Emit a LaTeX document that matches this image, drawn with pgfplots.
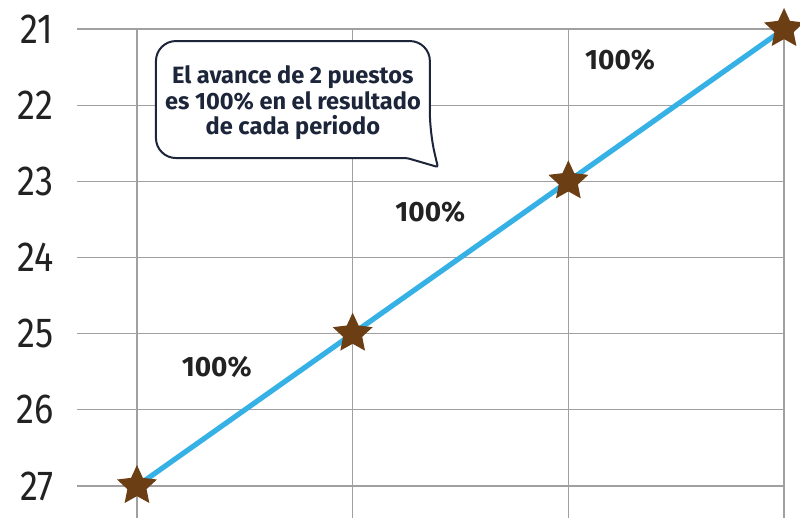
\documentclass[border=0pt]{standalone}
\usepackage{pgfplots}
\pgfplotsset{compat=1.18}
\usepackage{fontspec}
\setmainfont{Fira Sans}
\newfontfamily\tickfont{Fira Sans}[FakeStretch=0.86]
\definecolor{starbrown}{HTML}{6B3E13}
\definecolor{lineblue}{HTML}{36B1E6}
\definecolor{navy}{HTML}{1C2539}
\definecolor{gridgray}{HTML}{A0A0A0}
\definecolor{txt}{HTML}{222222}
\pgfdeclareplotmark{fstar}{%
  \pgfpathmoveto{\pgfpointpolar{90}{\pgfplotmarksize}}%
  \pgfpathlineto{\pgfpointpolar{126}{0.48\pgfplotmarksize}}%
  \pgfpathlineto{\pgfpointpolar{162}{\pgfplotmarksize}}%
  \pgfpathlineto{\pgfpointpolar{198}{0.48\pgfplotmarksize}}%
  \pgfpathlineto{\pgfpointpolar{234}{\pgfplotmarksize}}%
  \pgfpathlineto{\pgfpointpolar{270}{0.48\pgfplotmarksize}}%
  \pgfpathlineto{\pgfpointpolar{306}{\pgfplotmarksize}}%
  \pgfpathlineto{\pgfpointpolar{342}{0.48\pgfplotmarksize}}%
  \pgfpathlineto{\pgfpointpolar{18}{\pgfplotmarksize}}%
  \pgfpathlineto{\pgfpointpolar{54}{0.48\pgfplotmarksize}}%
  \pgfpathclose
  \pgfusepathqfill
}
\begin{document}
\begin{tikzpicture}
\begin{axis}[
  x=107.85pt, y=38.085pt,
  y dir=reverse,
  xmin=-0.278, xmax=3,
  ymin=21, ymax=27.42,
  clip=false,
  axis line style={draw=none},
  tick style={draw=none},
  xtick={0,1,2,3}, xticklabels={},
  ytick={21,22,23,24,25,26,27},
  yticklabels={21,22,23,24,25,26,27},
  yticklabel style={anchor=east, inner sep=0pt, xshift=-11.5pt,
    font=\tickfont\fontsize{21}{21}\selectfont, text=txt},
  grid=major,
  major grid style={gridgray, line width=0.6pt},
]
\addplot[only marks, mark=fstar, mark size=10.5pt, starbrown]
  coordinates {(0,27) (1,25) (2,23) (3,21)};
\addplot[no marks, lineblue, line width=2.6pt]
  coordinates {(0,27) (1,25) (2,23) (3,21)};
\node[font=\bfseries\fontsize{14}{14}\selectfont, text=txt] at (axis cs:0.37,25.44) {100\%};
\node[font=\bfseries\fontsize{14}{14}\selectfont, text=txt] at (axis cs:1.36,23.40) {100\%};
\node[font=\bfseries\fontsize{14}{14}\selectfont, text=txt] at (axis cs:2.24,21.41) {100\%};
\draw[navy, line width=1pt, fill=white, rounded corners=10pt]
  (axis cs:0.088,22.694) -- (axis cs:0.088,21.158) -- (axis cs:1.358,21.158)
  -- (axis cs:1.358,22.365) [rounded corners=1pt] -- (axis cs:1.395,22.812)
  -- (axis cs:1.252,22.694) [rounded corners=10pt] -- cycle;
\node[align=center, text=navy, font=\bfseries\fontsize{11.8}{12.75}\selectfont]
  at (axis cs:0.723,21.97) {El avance de 2 puestos\\es 100\% en el resultado\\de cada periodo};
\coordinate (bl) at (axis cs:-0.635,27.42);
\coordinate (tr) at (axis cs:3.074,20.619);
\end{axis}
\pgfresetboundingbox
\useasboundingbox (bl) rectangle (tr);
\end{tikzpicture}
\end{document}
